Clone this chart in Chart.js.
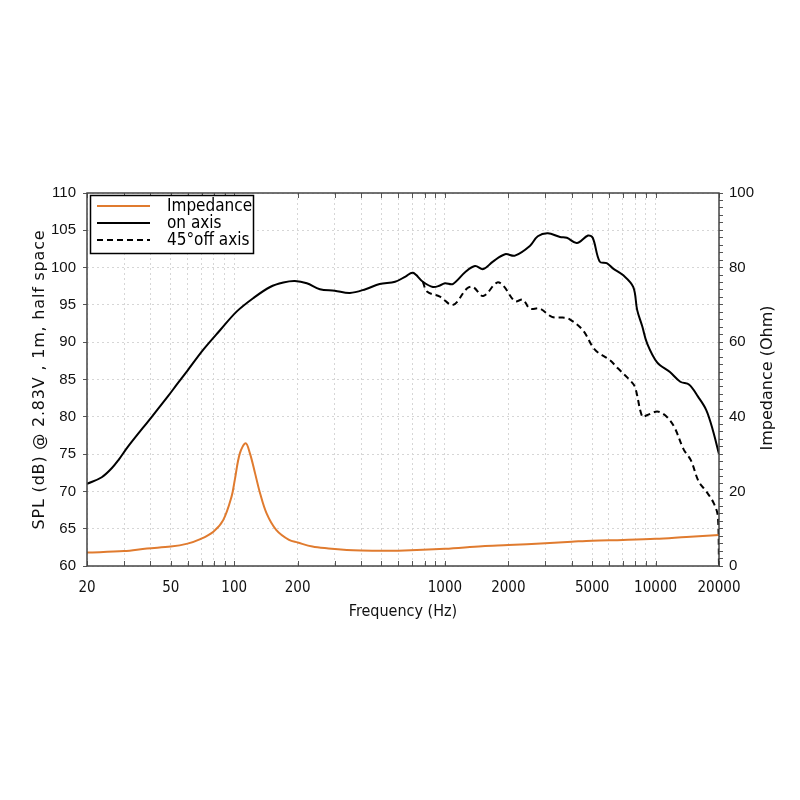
<!DOCTYPE html>
<html>
<head>
<meta charset="utf-8">
<script src="https://cdn.jsdelivr.net/npm/chart.js@4.4.0/dist/chart.umd.min.js"></script>
<style>
  html, body { margin: 0; padding: 0; background: #fff; }
  #wrap { width: 800px; height: 800px; }
</style>
</head>
<body>
<div id="wrap"><canvas id="spl" width="800" height="800"></canvas></div>
<script>
// fonts
const NARROW = "'Liberation Sans Narrow', 'DejaVu Sans Condensed', 'Liberation Sans', sans-serif";
const WIDE = "'DejaVu Sans', sans-serif";

// frecuencias marcadas en el eje x
const xTickValues = [20, 30, 40, 50, 60, 70, 80, 90, 100, 200, 300, 400, 500, 600, 700, 800, 900,
  1000, 2000, 3000, 4000, 5000, 6000, 7000, 8000, 9000, 10000, 20000];
const xTickLabels = [20, 50, 100, 200, 1000, 2000, 5000, 10000, 20000];

// on axis (Hz, dB)
const freqOn = [20, 23.5, 26.2, 28.2, 31.3, 40.6, 48.6, 53.3, 60, 71.3, 85.6, 102.6, 123, 148, 171, 194, 221, 255, 300, 354,
  420, 490, 580, 650, 705, 786, 877, 947, 1000, 1090, 1250, 1390, 1520, 1690, 1930, 2150, 2530, 2760, 3080, 3520,
  3790, 4230, 4780, 5030, 5430, 5860, 6270, 7000, 7830, 8180, 8650, 9100, 10170, 11700, 13100, 14450, 15900, 17400, 18700, 20000];
const splOn = [71.0, 71.9, 73.1, 74.2, 76.0, 80.0, 82.8, 84.3, 86.2, 89.0, 91.6, 94.1, 95.9, 97.4, 98.0, 98.2, 97.9, 97.1, 96.9, 96.6,
  97.1, 97.8, 98.1, 98.8, 99.3, 98.1, 97.4, 97.6, 97.9, 97.8, 99.4, 100.2, 99.8, 100.8, 101.8, 101.6, 102.9, 104.2, 104.6, 104.1,
  104.0, 103.3, 104.3, 104.0, 100.8, 100.6, 99.9, 99.0, 97.4, 94.3, 92.1, 89.9, 87.3, 86.0, 84.7, 84.3, 82.7, 80.9, 78.2, 75.0];

// 45° off axis (Hz, dB)
const freqOff = [786, 822, 947, 1093, 1272, 1360, 1520, 1766, 1890, 2150, 2345, 2530, 2820, 3220, 3620, 3900, 4520, 5150,
  6060, 6620, 7560, 7980, 8650, 9100, 10170, 11100, 12230, 13600, 14700, 16030, 17400, 18900, 19770, 20000];
const splOff = [98.1, 96.8, 96.1, 95.0, 97.2, 97.4, 96.2, 98.0, 97.6, 95.5, 95.7, 94.5, 94.5, 93.4, 93.3, 93.1, 91.6, 89.0,
  87.6, 86.5, 84.9, 84.0, 80.0, 80.2, 80.7, 80.2, 78.7, 75.6, 74.2, 71.3, 70.0, 68.4, 66.6, 60.0];

// impedancia (Hz, Ohm)
const freqImp = [20, 30, 38.5, 50, 60, 69, 79.6, 88.6, 97.1, 100.6, 106.3, 113.3, 118.7, 125.5, 132.6, 142.4, 158.1, 182,
  200, 235, 280, 342, 400, 491, 600, 1000, 1500, 2000, 3000, 4000, 5000, 7000, 10000, 14000, 20000];
const impOhm = [3.6, 4.0, 4.7, 5.2, 6.0, 7.2, 9.2, 12.3, 18.6, 23.1, 30.2, 32.9, 30.2, 24.9, 19.5, 14.1, 9.7, 7.0,
  6.3, 5.2, 4.7, 4.3, 4.15, 4.1, 4.1, 4.6, 5.3, 5.6, 6.1, 6.5, 6.8, 7.0, 7.3, 7.8, 8.3];

const toPoints = (xs, ys) => xs.map((x, i) => ({ x: x, y: ys[i] }));

// marco, ticks interiores, leyenda y títulos
const decor = {
  id: 'decor',
  afterDraw(chart) {
    const { ctx, chartArea: a, scales } = chart;
    ctx.save();

    ctx.strokeStyle = '#555';
    ctx.lineWidth = 1;
    xTickValues.forEach(v => {
      const px = Math.round(scales.x.getPixelForValue(v)) + 0.5;
      ctx.beginPath();
      ctx.moveTo(px, a.bottom); ctx.lineTo(px, a.bottom - 5);
      ctx.moveTo(px, a.top); ctx.lineTo(px, a.top + 5);
      ctx.stroke();
    });

    ctx.lineWidth = 1.5;
    ctx.strokeStyle = '#444';
    ctx.strokeRect(a.left, a.top, a.width, a.height);

    // leyenda
    const lx = 90.5, ly = 195.5;
    ctx.fillStyle = '#fff';
    ctx.fillRect(lx, ly, 163, 58);
    ctx.strokeStyle = '#000';
    ctx.strokeRect(lx, ly, 163, 58);
    ctx.font = '17px ' + NARROW;
    ctx.textBaseline = 'middle';
    ctx.textAlign = 'left';
    chart.data.datasets.forEach((ds, i) => {
      const y = 206 + i * 17;
      ctx.beginPath();
      ctx.strokeStyle = ds.borderColor;
      ctx.lineWidth = 2;
      ctx.setLineDash(ds.borderDash || []);
      ctx.moveTo(97, y); ctx.lineTo(150, y);
      ctx.stroke();
      ctx.setLineDash([]);
      ctx.fillStyle = '#000';
      ctx.fillText(ds.label, 167, y + 1);
    });

    // títulos de ejes
    ctx.fillStyle = '#111';
    ctx.textAlign = 'center';
    ctx.font = '16px ' + NARROW;
    ctx.fillText('Frequency (Hz)', (a.left + a.right) / 2, 612);

    ctx.font = '16px ' + WIDE;
    ctx.letterSpacing = '0.8px';
    ctx.save();
    ctx.translate(40, (a.top + a.bottom) / 2);
    ctx.rotate(-Math.PI / 2);
    ctx.fillText('SPL (dB) @ 2.83V , 1m, half space', 0, 0);
    ctx.restore();

    ctx.letterSpacing = '0px';
    ctx.save();
    ctx.translate(768, 378);
    ctx.rotate(-Math.PI / 2);
    ctx.fillText('Impedance (Ohm)', 0, 0);
    ctx.restore();

    ctx.restore();
  }
};

const ctx = document.getElementById('spl').getContext('2d');
new Chart(ctx, {
  type: 'line',
  data: {
    datasets: [{
      label: 'Impedance',
      data: toPoints(freqImp, impOhm),
      yAxisID: 'y1',
      borderColor: '#e07b2f',
      borderWidth: 2,
      pointRadius: 0,
      tension: 0.35
    }, {
      label: 'on axis',
      data: toPoints(freqOn, splOn),
      yAxisID: 'y',
      borderColor: '#000',
      borderWidth: 2,
      pointRadius: 0,
      tension: 0.35
    }, {
      label: '45°off axis',
      data: toPoints(freqOff, splOff),
      yAxisID: 'y',
      borderColor: '#000',
      borderWidth: 2,
      borderDash: [6, 4],
      pointRadius: 0,
      tension: 0.35
    }]
  },
  options: {
    responsive: false,
    animation: false,
    layout: { padding: { top: 193, left: 0, right: 0, bottom: 0 } },
    plugins: {
      legend: { display: false },
      tooltip: { enabled: false }
    },
    scales: {
      x: {
        type: 'logarithmic',
        min: 20,
        max: 20000,
        afterBuildTicks: s => { s.ticks = xTickValues.map(v => ({ value: v })); },
        afterFit: s => { s.height = 234; },
        ticks: {
          autoSkip: false,
          maxRotation: 0,
          padding: 13,
          color: '#111',
          font: { family: NARROW, size: 15 },
          callback: v => xTickLabels.includes(v) ? String(v) : ''
        },
        grid: { color: '#d6d6d6', lineWidth: 1, drawTicks: false },
        border: { display: false, dash: [2, 3] }
      },
      y: {
        position: 'left',
        min: 60,
        max: 110,
        afterFit: s => { s.width = 87; },
        ticks: {
          stepSize: 5,
          padding: 7,
          color: '#111',
          font: { family: "'Liberation Sans', sans-serif", size: 15 }
        },
        grid: { color: '#d6d6d6', lineWidth: 1, tickLength: 4, tickColor: '#555' },
        border: { display: false, dash: [2, 3] }
      },
      y1: {
        position: 'right',
        min: 0,
        max: 100,
        afterFit: s => { s.width = 81; },
        ticks: {
          stepSize: 2,
          padding: 6,
          color: '#111',
          autoSkip: false,
          font: { family: "'Liberation Sans', sans-serif", size: 15 },
          callback: v => v % 20 === 0 ? String(v) : ''
        },
        grid: { drawOnChartArea: false, tickLength: 4, tickColor: '#555' },
        border: { display: false }
      }
    }
  },
  plugins: [decor]
});
</script>
</body>
</html>
